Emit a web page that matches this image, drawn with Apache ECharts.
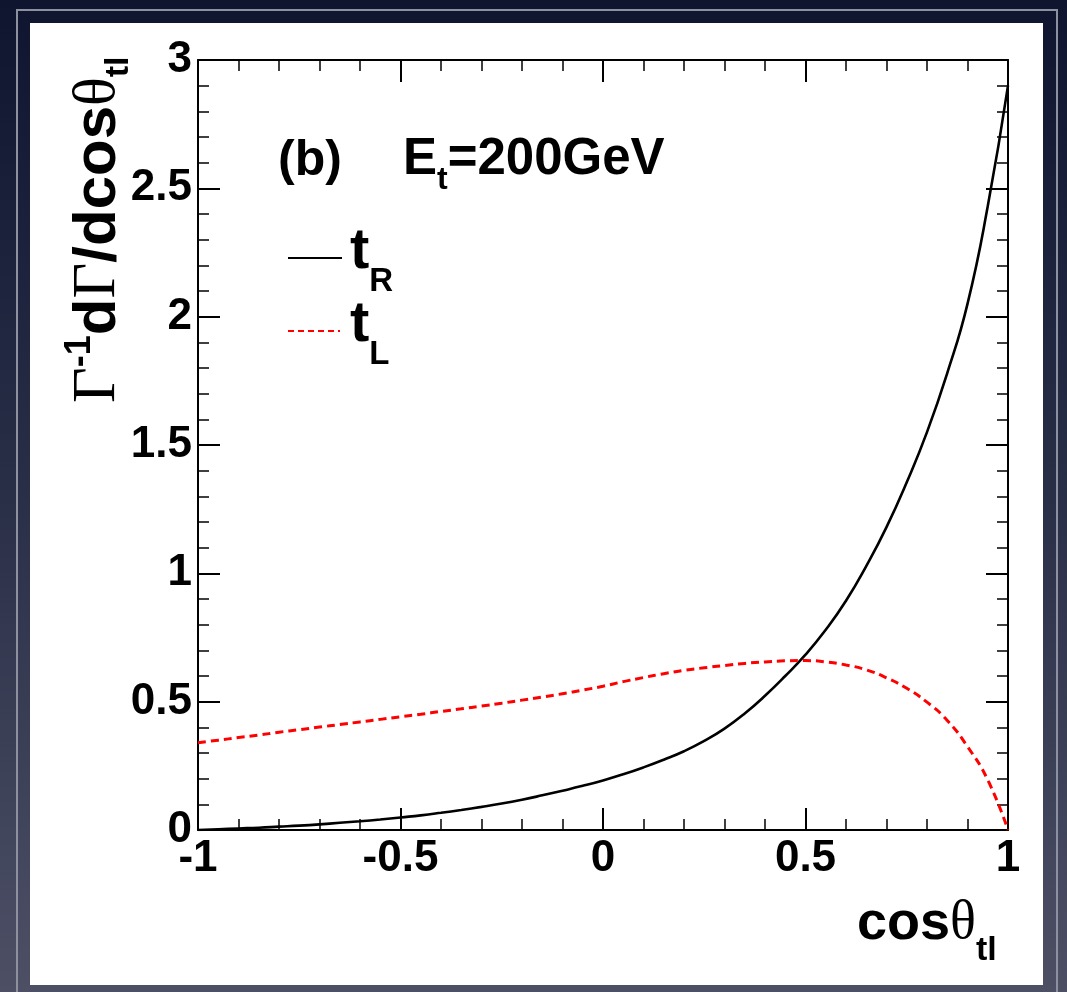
<!DOCTYPE html>
<html>
<head>
<meta charset="utf-8">
<script src="https://cdn.jsdelivr.net/npm/echarts@6/dist/echarts.min.js"></script>
<style>
  html, body { margin: 0; padding: 0; background: #1c2138; }
  #chart { width: 1067px; height: 992px; }
</style>
</head>
<body>
<div id="chart"></div>
<script>
// cos(theta_tl) sample points (step 0.05) shared by both curves
const cosTheta = [-1, -0.95, -0.9, -0.85, -0.8, -0.75, -0.7, -0.65, -0.6, -0.55, -0.5,
  -0.45, -0.4, -0.35, -0.3, -0.25, -0.2, -0.15, -0.1, -0.05, 0,
  0.05, 0.1, 0.15, 0.2, 0.25, 0.3, 0.35, 0.4, 0.45, 0.5,
  0.55, 0.6, 0.65, 0.7, 0.75, 0.8, 0.85, 0.9, 0.95, 1];
// normalised distribution for right-handed top
const tR = [0, 0.003, 0.006, 0.009, 0.013, 0.017, 0.022, 0.028, 0.034, 0.041, 0.049,
  0.057, 0.067, 0.078, 0.090, 0.103, 0.118, 0.135, 0.153, 0.172, 0.193,
  0.217, 0.244, 0.274, 0.307, 0.347, 0.395, 0.454, 0.523, 0.600, 0.683,
  0.780, 0.893, 1.028, 1.180, 1.355, 1.550, 1.780, 2.050, 2.430, 2.900];
// normalised distribution for left-handed top
const tL = [0.340, 0.350, 0.360, 0.370, 0.381, 0.391, 0.401, 0.411, 0.421, 0.431, 0.441,
  0.451, 0.462, 0.472, 0.483, 0.494, 0.506, 0.518, 0.531, 0.545, 0.560,
  0.578, 0.594, 0.609, 0.622, 0.632, 0.641, 0.649, 0.655, 0.659, 0.660,
  0.655, 0.643, 0.624, 0.593, 0.552, 0.498, 0.427, 0.325, 0.195, 0];
const xTicks = [-1, -0.5, 0, 0.5, 1];
const yTicks = [0, 0.5, 1, 1.5, 2, 2.5, 3];

const SANS = '"Liberation Sans", Arial, Helvetica, sans-serif';
const SERIF = '"Liberation Serif", "DejaVu Serif", serif';

const measureCtx = document.createElement('canvas').getContext('2d');
function fontStr(p) {
  return (p.bold === false ? '' : 'bold ') + p.size + 'px ' + (p.serif ? SERIF : SANS);
}
// Lay out a run of text pieces along a common baseline (local y = 0).
function textRun(parts) {
  let cx = 0;
  const out = [];
  parts.forEach(p => {
    const f = fontStr(p);
    measureCtx.font = f;
    const w = measureCtx.measureText(p.text).width;
    out.push({
      type: 'text',
      x: cx + (p.dx || 0),
      y: (p.dy || 0) - 0.31 * p.size,
      style: { text: p.text, font: f, fill: p.color || '#000', align: 'left', verticalAlign: 'middle' }
    });
    cx += w + (p.dx || 0);
  });
  return out;
}
function pairs(xs, ys) { return xs.map((x, i) => [x, ys[i]]); }

const chart = echarts.init(document.getElementById('chart'), null, { renderer: 'canvas' });

const tickCommon = {
  axisLine: { show: true, onZero: false, lineStyle: { color: '#000', width: 2 } },
  axisTick: { show: true, inside: true, length: 22, lineStyle: { color: '#000', width: 2 } },
  minorTick: { show: true, splitNumber: 5, length: 11, lineStyle: { color: '#000', width: 1.5 } },
  splitLine: { show: false },
  minorSplitLine: { show: false }
};
const labelFont = { fontFamily: SANS, fontWeight: 'bold', fontSize: 44, color: '#000' };

chart.setOption({
  backgroundColor: 'transparent',
  animation: false,
  grid: { left: 198, right: 59, top: 60, bottom: 162, show: false },
  xAxis: [
    Object.assign({
      type: 'value', min: xTicks[0], max: xTicks[xTicks.length - 1], interval: 0.5, position: 'bottom',
      axisLabel: Object.assign({ margin: 7, formatter: v => String(v) }, labelFont)
    }, tickCommon),
    Object.assign({
      type: 'value', min: xTicks[0], max: xTicks[xTicks.length - 1], interval: 0.5, position: 'top',
      axisLabel: { show: false }
    }, tickCommon)
  ],
  yAxis: [
    Object.assign({
      type: 'value', min: yTicks[0], max: yTicks[yTicks.length - 1], interval: 0.5, position: 'left',
      axisLabel: Object.assign({ margin: 6, formatter: v => String(v) }, labelFont)
    }, tickCommon),
    Object.assign({
      type: 'value', min: yTicks[0], max: yTicks[yTicks.length - 1], interval: 0.5, position: 'right',
      axisLabel: { show: false }
    }, tickCommon)
  ],
  series: [
    {
      name: 't_R', type: 'line', xAxisIndex: 0, yAxisIndex: 0,
      data: pairs(cosTheta, tR), smooth: 0.5, showSymbol: false, z: 3,
      lineStyle: { color: '#000', width: 2.6 }
    },
    {
      name: 't_L', type: 'line', xAxisIndex: 0, yAxisIndex: 0,
      data: pairs(cosTheta, tL), smooth: 0.5, showSymbol: false, z: 3,
      lineStyle: { color: '#ff0000', width: 3, type: [8, 5] }
    }
  ],
  graphic: { elements: [
    // slide backdrop
    {
      type: 'rect', z: -30, silent: true,
      shape: { x: 0, y: 0, width: 1067, height: 992 },
      style: { fill: new echarts.graphic.LinearGradient(0, 0, 0, 1, [
        { offset: 0, color: '#0f152f' }, { offset: 0.5, color: '#2a2f48' }, { offset: 1, color: '#4d5065' }
      ]) }
    },
    {
      type: 'rect', z: -29, silent: true,
      shape: { x: 17, y: 10, width: 1040, height: 1000 },
      style: { fill: null, stroke: '#8d909e', lineWidth: 2 }
    },
    {
      type: 'rect', z: -28, silent: true,
      shape: { x: 30, y: 23, width: 1013, height: 962 },
      style: { fill: '#ffffff' }
    },
    // y axis title
    {
      type: 'group', x: 117, y: 403, rotation: Math.PI / 2, z: 10,
      children: textRun([
        { text: '\u0393', size: 62, serif: true, bold: false },
        { text: '-1', size: 36, dy: -26 },
        { text: 'd', size: 60 },
        { text: '\u0393', size: 62, serif: true, bold: false },
        { text: '/dcos', size: 60 },
        { text: '\u03b8', size: 60, serif: true, bold: false },
        { text: 'tl', size: 34, dy: 12 }
      ])
    },
    // x axis title
    {
      type: 'group', x: 857, y: 941, z: 10,
      children: textRun([
        { text: 'cos', size: 54 },
        { text: '\u03b8', size: 54, serif: true, bold: false },
        { text: 'tl', size: 34, dy: 20 }
      ])
    },
    // panel label
    {
      type: 'group', x: 278, y: 177, z: 10,
      children: textRun([{ text: '(b)', size: 50 }])
    },
    {
      type: 'group', x: 403, y: 176, z: 10,
      children: textRun([
        { text: 'E', size: 51 },
        { text: 't', size: 32, dy: 14 },
        { text: '=200GeV', size: 51 }
      ])
    },
    // legend
    {
      type: 'line', z: 10, shape: { x1: 288, y1: 258, x2: 342, y2: 258 },
      style: { stroke: '#000', lineWidth: 2.2 }
    },
    {
      type: 'group', x: 350, y: 270, z: 10,
      children: textRun([{ text: 't', size: 58 }, { text: 'R', size: 33, dy: 22 }])
    },
    {
      type: 'line', z: 10, shape: { x1: 288, y1: 331, x2: 340, y2: 331 },
      style: { stroke: '#ff0000', lineWidth: 2.2, lineDash: [6, 4] }
    },
    {
      type: 'group', x: 350, y: 343, z: 10,
      children: textRun([{ text: 't', size: 58 }, { text: 'L', size: 33, dy: 22 }])
    }
  ] }
});
</script>
</body>
</html>
